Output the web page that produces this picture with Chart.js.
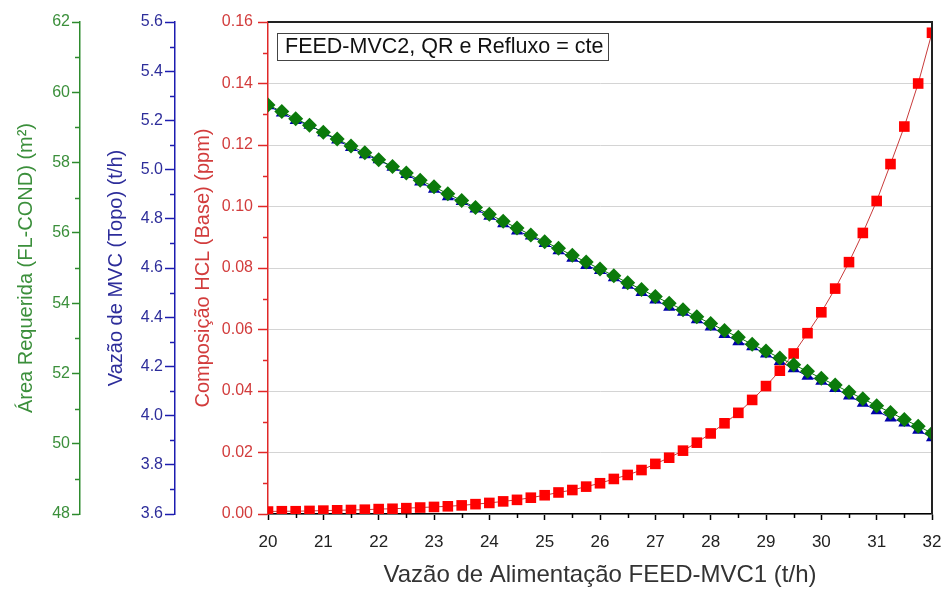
<!DOCTYPE html>
<html>
<head>
<meta charset="utf-8">
<script src="https://cdn.jsdelivr.net/npm/chart.js@4/dist/chart.umd.min.js"></script>
<style>
  html, body { margin: 0; padding: 0; background: #fff; }
  #wrap { width: 948px; height: 590px; }
</style>
</head>
<body>
<div id="wrap"><canvas id="c"></canvas></div>
<script>
// feed flow FEED-MVC1 (t/h)
const feed = [20, 20.25, 20.5, 20.75, 21, 21.25, 21.5, 21.75, 22, 22.25, 22.5, 22.75,
  23, 23.25, 23.5, 23.75, 24, 24.25, 24.5, 24.75, 25, 25.25, 25.5, 25.75,
  26, 26.25, 26.5, 26.75, 27, 27.25, 27.5, 27.75, 28, 28.25, 28.5, 28.75,
  29, 29.25, 29.5, 29.75, 30, 30.25, 30.5, 30.75, 31, 31.25, 31.5, 31.75, 32];

// Composição HCL (Base) (ppm)
const hcl = [0.0008, 0.0009, 0.0009, 0.0010, 0.0011, 0.0012, 0.0013, 0.0014, 0.0016, 0.0017, 0.0019, 0.0021,
  0.0023, 0.0025, 0.0028, 0.0032, 0.0036, 0.0041, 0.0046, 0.0053, 0.0061, 0.0070, 0.0078, 0.0089,
  0.0100, 0.0114, 0.0127, 0.0143, 0.0163, 0.0183, 0.0206, 0.0232, 0.0262, 0.0295, 0.0329, 0.0371,
  0.0416, 0.0466, 0.0522, 0.0588, 0.0656, 0.0733, 0.0819, 0.0914, 0.1018, 0.1138, 0.1260, 0.1400, 0.1565];

// Vazão de MVC (Topo) (t/h)
const mvc = [5.26, 5.23, 5.20, 5.18, 5.15, 5.12, 5.09, 5.06, 5.04, 5.01, 4.98, 4.95,
  4.92, 4.89, 4.87, 4.84, 4.81, 4.78, 4.75, 4.73, 4.70, 4.67, 4.64, 4.61,
  4.59, 4.56, 4.53, 4.50, 4.47, 4.44, 4.42, 4.39, 4.36, 4.33, 4.30, 4.28,
  4.25, 4.22, 4.19, 4.16, 4.14, 4.11, 4.08, 4.05, 4.02, 3.99, 3.97, 3.94, 3.91];

// Área Requerida (FL-COND) (m²)
const area = [59.64, 59.45, 59.25, 59.06, 58.86, 58.67, 58.47, 58.28, 58.08, 57.89, 57.70, 57.50,
  57.31, 57.11, 56.92, 56.72, 56.53, 56.33, 56.14, 55.94, 55.75, 55.56, 55.36, 55.17,
  54.97, 54.78, 54.58, 54.39, 54.19, 54.00, 53.81, 53.61, 53.42, 53.22, 53.03, 52.83,
  52.64, 52.44, 52.25, 52.06, 51.86, 51.67, 51.47, 51.28, 51.08, 50.89, 50.69, 50.50, 50.30];

const FONT = "'Liberation Sans', Arial, sans-serif";
const GREEN = '#2e8b2e', GREEN_TXT = '#3b8f3b';
const BLUE = '#1c1cb0', BLUE_TXT = '#2d2d9a';
const RED = '#e02828', RED_TXT = '#d23c3c';

const pts = ys => feed.map((x, i) => ({ x: x, y: ys[i] }));

// short unlabeled ticks between the major ones
const minorTicks = {
  id: 'minorTicks',
  afterDraw(chart) {
    const ctx = chart.ctx;
    const specs = [
      { id: 'yArea', step: 1, len: 5, color: GREEN },
      { id: 'yMvc', step: 0.1, len: 5, color: BLUE },
      { id: 'yHcl', step: 0.01, len: 5, color: RED },
      { id: 'x', step: 0.5, len: 4, color: '#000' }
    ];
    ctx.save();
    specs.forEach(s => {
      const sc = chart.scales[s.id];
      ctx.strokeStyle = s.color;
      ctx.lineWidth = 1.5;
      const n = Math.round((sc.max - sc.min) / s.step);
      for (let i = 1; i < n; i += 2) {
        const v = sc.min + i * s.step;
        const p = Math.round(sc.getPixelForValue(v)) + 0.5;
        ctx.beginPath();
        if (s.id === 'x') {
          ctx.moveTo(p, sc.top);
          ctx.lineTo(p, sc.top + s.len);
        } else {
          ctx.moveTo(sc.right - s.len, p);
          ctx.lineTo(sc.right, p);
        }
        ctx.stroke();
      }
    });
    ctx.restore();
  }
};

// top/right frame and the note box
const frameAndNote = {
  id: 'frameAndNote',
  afterDraw(chart) {
    const ctx = chart.ctx;
    const a = chart.chartArea;
    ctx.save();
    ctx.strokeStyle = '#222';
    ctx.lineWidth = 2;
    ctx.beginPath();
    ctx.moveTo(a.left, a.top);
    ctx.lineTo(a.right, a.top);
    ctx.lineTo(a.right, a.bottom);
    ctx.stroke();

    ctx.fillStyle = '#fff';
    ctx.fillRect(a.left + 9.5, a.top + 11.5, 331, 27);
    ctx.strokeStyle = '#444';
    ctx.lineWidth = 1;
    ctx.strokeRect(a.left + 9.5, a.top + 11.5, 331, 27);
    ctx.fillStyle = '#111';
    ctx.font = '21.5px ' + FONT;
    ctx.textBaseline = 'middle';
    ctx.fillText('FEED-MVC2, QR e Refluxo = cte', a.left + 17, a.top + 25.5);
    ctx.restore();
  }
};

new Chart(document.getElementById('c'), {
  type: 'line',
  data: {
    datasets: [
      {
        label: 'Área Requerida',
        data: pts(area),
        yAxisID: 'yArea',
        order: 0,
        borderColor: '#0b7a0b',
        borderWidth: 1,
        pointStyle: 'rectRot',
        pointRadius: 7.5,
        pointBackgroundColor: '#0b7a0b',
        pointBorderColor: '#0b7a0b',
        pointBorderWidth: 0,
        clip: 0
      },
      {
        label: 'Composição HCL',
        data: pts(hcl),
        yAxisID: 'yHcl',
        order: 1,
        borderColor: '#c83a3a',
        borderWidth: 1,
        pointStyle: 'rect',
        pointRadius: 7.5,
        pointBackgroundColor: '#ff0000',
        pointBorderColor: '#ff0000',
        pointBorderWidth: 0,
        clip: 0
      },
      {
        label: 'Vazão de MVC',
        data: pts(mvc),
        yAxisID: 'yMvc',
        order: 2,
        borderColor: '#0000a8',
        borderWidth: 1,
        pointStyle: 'triangle',
        pointRadius: 7,
        pointBackgroundColor: '#0000a8',
        pointBorderColor: '#0000a8',
        pointBorderWidth: 0,
        clip: 0
      }
    ]
  },
  options: {
    responsive: true,
    maintainAspectRatio: false,
    animation: false,
    layout: { padding: { left: 0, right: 16, top: 22, bottom: 0 } },
    plugins: { legend: { display: false }, tooltip: { enabled: false } },
    elements: { line: { tension: 0 } },
    scales: {
      x: {
        type: 'linear',
        position: 'bottom',
        min: 20, max: 32,
        ticks: { stepSize: 1, color: '#222', font: { family: FONT, size: 17 }, padding: 12 },
        grid: { drawOnChartArea: false, tickLength: 6, tickColor: '#000', tickWidth: 1.5 },
        border: { color: '#000', width: 1.5 },
        title: {
          display: true,
          text: 'Vazão de Alimentação FEED-MVC1 (t/h)',
          color: '#333',
          font: { family: FONT, size: 24 },
          padding: { top: 0, bottom: 0 }
        },
        afterFit: s => { s.height = 76; s.paddingLeft = 0; s.paddingRight = 0; }
      },
      yArea: {
        type: 'linear',
        position: 'left',
        weight: 3,
        min: 48, max: 62,
        ticks: { stepSize: 2, color: GREEN_TXT, font: { family: FONT, size: 16 }, padding: 2 },
        grid: { drawOnChartArea: false, tickLength: 8, tickColor: GREEN, tickWidth: 1.5 },
        border: { color: GREEN, width: 1.5 },
        title: {
          display: true,
          text: 'Área Requerida (FL-COND) (m²)',
          color: GREEN_TXT,
          font: { family: FONT, size: 20 },
          padding: { top: 14, bottom: 0 }
        },
        afterFit: s => { s.width = 80; }
      },
      yMvc: {
        type: 'linear',
        position: 'left',
        weight: 2,
        min: 3.6, max: 5.6,
        ticks: {
          stepSize: 0.2, color: BLUE_TXT, font: { family: FONT, size: 16 }, padding: 2,
          callback: v => v.toFixed(1)
        },
        grid: { drawOnChartArea: false, tickLength: 10, tickColor: BLUE, tickWidth: 1.5 },
        border: { color: BLUE, width: 1.5 },
        title: {
          display: true,
          text: 'Vazão de MVC (Topo) (t/h)',
          color: BLUE_TXT,
          font: { family: FONT, size: 20 },
          padding: { top: 24, bottom: 0 }
        },
        afterFit: s => { s.width = 95; }
      },
      yHcl: {
        type: 'linear',
        position: 'left',
        weight: 1,
        min: 0, max: 0.16,
        ticks: {
          stepSize: 0.02, color: RED_TXT, font: { family: FONT, size: 16 }, padding: 5,
          callback: v => v.toFixed(2)
        },
        grid: {
          drawOnChartArea: true,
          color: '#d4d4d4',
          lineWidth: 1,
          tickLength: 10,
          tickColor: RED,
          tickWidth: 1.5
        },
        border: { color: RED, width: 1.5 },
        title: {
          display: true,
          text: 'Composição HCL (Base) (ppm)',
          color: RED_TXT,
          font: { family: FONT, size: 20 },
          padding: { top: 16, bottom: 0 }
        },
        afterFit: s => { s.width = 93; }
      }
    }
  },
  plugins: [minorTicks, frameAndNote]
});
</script>
</body>
</html>
